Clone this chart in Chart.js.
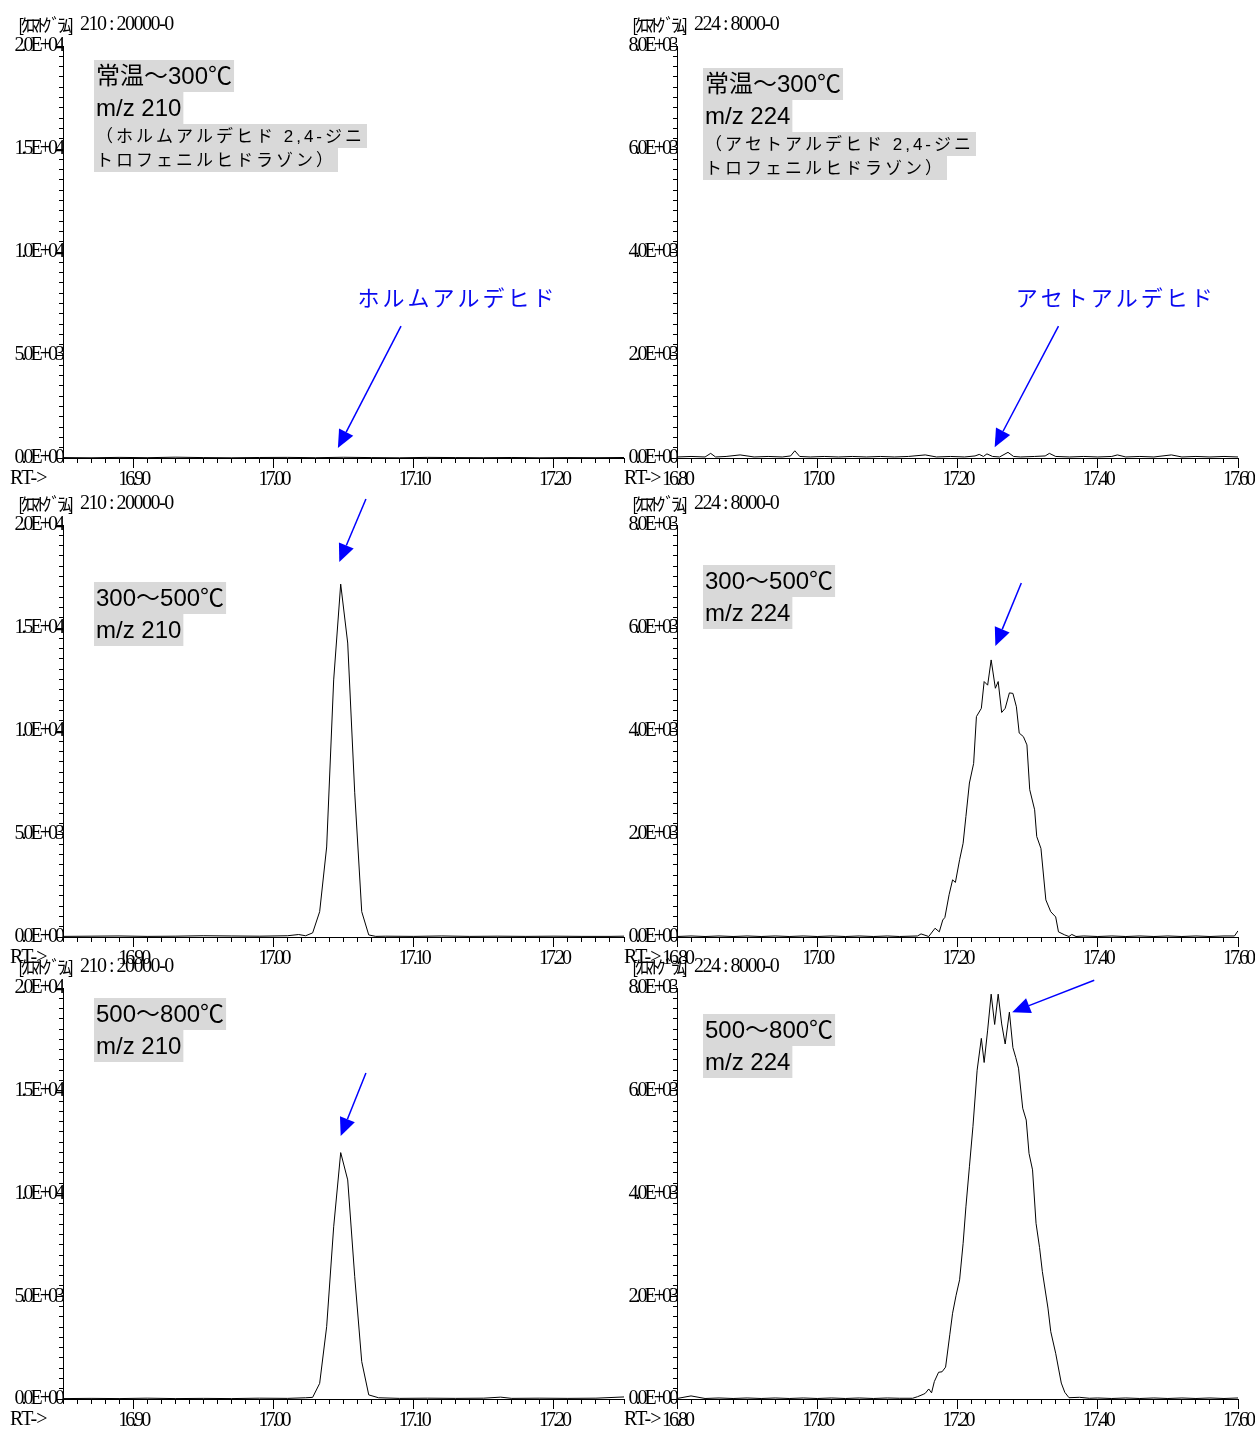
<!DOCTYPE html>
<html>
<head>
<meta charset="utf-8">
<script src="https://cdn.jsdelivr.net/npm/chart.js@4.4.1/dist/chart.umd.min.js"></script>
<style>
  body { margin: 0; background: #fff; width: 1255px; height: 1430px; position: relative; overflow: hidden; }
  canvas { position: absolute; }
</style>
</head>
<body>
<canvas id="c1" width="627" height="492" style="left:0;top:0"></canvas>
<canvas id="c2" width="641" height="492" style="left:614px;top:0"></canvas>
<canvas id="c3" width="627" height="492" style="left:0;top:479px"></canvas>
<canvas id="c4" width="641" height="492" style="left:614px;top:479px"></canvas>
<canvas id="c5" width="627" height="491" style="left:0;top:942px"></canvas>
<canvas id="c6" width="641" height="491" style="left:614px;top:942px"></canvas>
<script>
// 保持時間 [min], 強度 の組 (m/z 210 : ホルムアルデヒド DNPH)
const mz210_rt_300 = [
  [16.85, 20], [16.87, 10], [16.89, 30], [16.91, 15], [16.93, 40], [16.95, 20], [16.97, 10],
  [16.99, 25], [17.01, 30], [17.03, 15], [17.05, 35], [17.07, 20], [17.09, 10], [17.11, 30],
  [17.13, 20], [17.15, 15], [17.17, 25], [17.19, 10], [17.21, 20], [17.23, 15], [17.25, 25]
];
const mz210_300_500 = [
  [16.85, 30], [16.87, 40], [16.89, 50], [16.91, 30], [16.93, 40], [16.95, 60], [16.97, 50],
  [16.99, 40], [17.01, 60], [17.018, 120], [17.023, 60], [17.028, 200], [17.033, 1230],
  [17.038, 4370], [17.043, 12480], [17.048, 17130], [17.053, 14270], [17.058, 7000],
  [17.063, 1230], [17.068, 100], [17.073, 30], [17.08, 40], [17.10, 30], [17.12, 50],
  [17.14, 30], [17.16, 40], [17.18, 30], [17.20, 40], [17.22, 30], [17.24, 30], [17.25, 40]
];
const mz210_500_800 = [
  [16.85, 20], [16.87, 30], [16.89, 20], [16.91, 40], [16.93, 20], [16.95, 30], [16.97, 20],
  [16.99, 40], [17.01, 30], [17.023, 60], [17.028, 80], [17.033, 760], [17.038, 3520],
  [17.043, 8380], [17.048, 11990], [17.053, 10660], [17.058, 5950], [17.063, 1820],
  [17.068, 200], [17.075, 60], [17.09, 30], [17.11, 40], [17.13, 30], [17.15, 40],
  [17.162, 90], [17.17, 30], [17.19, 40], [17.21, 30], [17.23, 40], [17.25, 100]
];
// m/z 224 : アセトアルデヒド DNPH
const mz224_rt_300 = [
  [16.80, 20], [16.82, 30], [16.84, 20], [16.848, 90], [16.855, 20], [16.87, 30], [16.89, 60],
  [16.91, 20], [16.93, 30], [16.95, 20], [16.962, 40], [16.968, 140], [16.975, 30], [16.99, 20],
  [17.01, 30], [17.03, 20], [17.05, 30], [17.07, 20], [17.09, 30], [17.11, 20], [17.13, 30],
  [17.154, 60], [17.17, 20], [17.19, 30], [17.21, 20], [17.225, 40], [17.231, 70], [17.237, 30],
  [17.242, 80], [17.25, 30], [17.26, 20], [17.272, 110], [17.28, 30], [17.29, 20], [17.31, 30],
  [17.325, 40], [17.331, 90], [17.34, 30], [17.36, 20], [17.38, 30], [17.40, 20], [17.42, 30],
  [17.428, 60], [17.44, 20], [17.46, 30], [17.48, 20], [17.505, 60], [17.52, 20], [17.54, 30],
  [17.56, 20], [17.58, 30], [17.60, 20]
];
const mz224_300_500 = [
  [16.80, 10], [16.82, 20], [16.84, 10], [16.86, 20], [16.88, 10], [16.90, 20], [16.92, 10],
  [16.94, 20], [16.96, 10], [16.98, 20], [17.00, 10], [17.02, 20], [17.04, 10], [17.06, 20],
  [17.08, 10], [17.10, 20], [17.117, 10], [17.143, 20], [17.148, 60], [17.159, 10],
  [17.168, 170], [17.174, 100], [17.179, 330], [17.182, 380], [17.188, 820], [17.193, 1110],
  [17.197, 1060], [17.203, 1500], [17.208, 1820], [17.212, 2340], [17.217, 2990],
  [17.223, 3370], [17.227, 4280], [17.234, 4440], [17.238, 4960], [17.243, 4890],
  [17.248, 5380], [17.254, 4830], [17.258, 4960], [17.263, 4360], [17.268, 4440],
  [17.274, 4740], [17.279, 4730], [17.284, 4470], [17.288, 3960], [17.294, 3890],
  [17.299, 3730], [17.303, 2860], [17.310, 2470], [17.313, 1950], [17.319, 1720],
  [17.326, 720], [17.333, 490], [17.340, 390], [17.344, 100], [17.353, 40], [17.359, 10],
  [17.363, 50], [17.369, 10], [17.38, 20], [17.40, 10], [17.42, 20], [17.44, 10], [17.46, 20],
  [17.48, 10], [17.50, 20], [17.52, 10], [17.54, 20], [17.56, 10], [17.58, 20], [17.595, 20],
  [17.60, 120]
];
const mz224_500_800 = [
  [16.80, 10], [16.82, 60], [16.84, 10], [16.86, 20], [16.88, 10], [16.90, 20], [16.92, 10],
  [16.94, 20], [16.96, 10], [16.98, 20], [17.00, 10], [17.02, 20], [17.04, 10], [17.06, 20],
  [17.08, 10], [17.10, 20], [17.117, 14], [17.136, 14], [17.143, 45], [17.151, 90],
  [17.154, 110], [17.159, 195], [17.163, 120], [17.167, 340], [17.173, 520], [17.178, 530],
  [17.183, 620], [17.189, 1250], [17.193, 1670], [17.198, 2020], [17.203, 2320],
  [17.208, 3030], [17.212, 3740], [17.217, 4520], [17.222, 5300], [17.228, 6400],
  [17.234, 7020], [17.238, 6550], [17.243, 7180], [17.248, 7880], [17.253, 7290],
  [17.258, 7880], [17.263, 7300], [17.268, 6910], [17.274, 7530], [17.279, 6840],
  [17.283, 6650], [17.287, 6440], [17.293, 5660], [17.298, 5430], [17.302, 4780],
  [17.307, 4460], [17.312, 3420], [17.317, 2950], [17.321, 2480], [17.329, 1770],
  [17.333, 1310], [17.340, 890], [17.348, 310], [17.353, 130], [17.359, 25], [17.374, 33],
  [17.388, 14], [17.40, 20], [17.42, 10], [17.44, 20], [17.46, 10], [17.48, 20], [17.50, 10],
  [17.52, 20], [17.54, 10], [17.56, 20], [17.58, 10], [17.60, 20]
];

// 軸範囲
const xRange210 = [16.85, 17.25];
const xRange224 = [16.80, 17.60];
const yMax210 = 20000;
const yMax224 = 8000;

const SERIF = '"Liberation Serif", "Noto Sans CJK JP", serif';
const SANS = '"Liberation Sans", "Noto Sans CJK JP", sans-serif';
const JP = '"Noto Sans CJK JP", sans-serif';

function sci(v) {
  if (v === 0) return '0.0E+00';
  const e = Math.floor(Math.log10(v) + 1e-9);
  const m = v / Math.pow(10, e);
  return m.toFixed(1) + 'E+' + String(e).padStart(2, '0');
}
function isMul(v, step) {
  return Math.abs(v / step - Math.round(v / step)) < 1e-6;
}

function drawArrow(ctx, x1, y1, x2, y2) {
  const a = Math.atan2(y2 - y1, x2 - x1);
  const hl = 18, hw = 8;
  const bx = x2 - hl * Math.cos(a), by = y2 - hl * Math.sin(a);
  ctx.strokeStyle = '#0000ff';
  ctx.fillStyle = '#0000ff';
  ctx.lineWidth = 1.5;
  ctx.beginPath(); ctx.moveTo(x1, y1); ctx.lineTo(bx, by); ctx.stroke();
  ctx.beginPath();
  ctx.moveTo(x2, y2);
  ctx.lineTo(bx + hw * Math.sin(a), by - hw * Math.cos(a));
  ctx.lineTo(bx - hw * Math.sin(a), by + hw * Math.cos(a));
  ctx.closePath(); ctx.fill();
}

// 注記（ヘッダ・ラベル箱・矢印）
const overlay = {
  id: 'overlay',
  beforeDraw(chart) {
    chart.ctx.letterSpacing = '-3px';
  },
  afterDraw(chart) {
    const p = chart.options.plugins.overlay;
    const ctx = chart.ctx;
    const ca = chart.chartArea;
    const xs = chart.scales.x, ys = chart.scales.y;
    ctx.save();
    ctx.fillStyle = '#000';
    ctx.textBaseline = 'middle';
    ctx.textAlign = 'left';
    // ヘッダ
    ctx.letterSpacing = '-3.5px';
    ctx.font = '18px ' + JP;
    ctx.fillText('[ｸﾛﾏﾄｸﾞﾗﾑ]', ca.left - 45, ca.top - 21);
    ctx.letterSpacing = '-1.5px';
    ctx.font = '20px ' + SERIF;
    ctx.fillText(p.header, ca.left + 17, ca.top - 21);
    ctx.letterSpacing = '-1px';
    ctx.fillText('RT->', ca.left - 53, ca.bottom + 21);
    // ラベル箱
    let y = ca.top + p.box.dy;
    p.box.lines.forEach(l => {
      ctx.font = l.size + 'px ' + SANS;
      ctx.letterSpacing = (l.sp || 0) + 'px';
      const w = ctx.measureText(l.t).width;
      const h = l.size > 20 ? 32 : 24;
      ctx.fillStyle = '#d9d9d9';
      ctx.fillRect(ca.left + p.box.dx, y, w + 4, h);
      ctx.fillStyle = '#000';
      ctx.fillText(l.t, ca.left + p.box.dx + 2, y + h / 2 + 1);
      y += h;
    });
    // 化合物名
    if (p.name) {
      ctx.font = '22px ' + JP;
      ctx.letterSpacing = '3px';
      ctx.fillStyle = '#0a0af0';
      ctx.fillText(p.name.t, xs.getPixelForValue(p.name.x), ys.getPixelForValue(p.name.y));
    }
    const ar = p.arrow;
    ctx.letterSpacing = '0px';
    drawArrow(ctx, xs.getPixelForValue(ar[0]), ys.getPixelForValue(ar[1]),
      xs.getPixelForValue(ar[2]), ys.getPixelForValue(ar[3]));
    ctx.restore();
  }
};

function makeChart(id, data, xr, xStep, xMajor, yMax, padRight, header, box, arrow, name) {
  const yStep = yMax / 40, yMajor = yMax / 4;
  new Chart(document.getElementById(id), {
    type: 'line',
    data: {
      datasets: [{
        data: data.map(d => ({ x: d[0], y: d[1] })),
        borderColor: '#000',
        borderWidth: 1,
        pointRadius: 0,
        tension: 0,
        fill: false
      }]
    },
    options: {
      responsive: false,
      animation: false,
      layout: { padding: { top: 46, right: padRight, bottom: 0, left: 0 } },
      plugins: {
        legend: { display: false },
        tooltip: { enabled: false },
        overlay: { header, box, arrow, name }
      },
      scales: {
        x: {
          type: 'linear',
          min: xr[0],
          max: xr[1],
          border: { color: '#000', width: 1 },
          grid: {
            drawOnChartArea: false,
            tickLength: 10,
            tickColor: '#000',
            tickBorderDash: c => (c.tick && isMul(c.tick.value, xMajor)) ? [] : [4, 40]
          },
          ticks: {
            stepSize: xStep,
            autoSkip: false,
            maxRotation: 0,
            minRotation: 0,
            padding: 0,
            color: '#000',
            font: { family: SERIF, size: 20 },
            callback: v => isMul(v, xMajor) ? v.toFixed(2) : ''
          },
          afterFit: s => { s.height = 34; s.paddingLeft = 0; s.paddingRight = 0; }
        },
        y: {
          min: 0,
          max: yMax,
          border: { color: '#000', width: 1 },
          grid: {
            drawOnChartArea: false,
            tickLength: 7,
            tickColor: '#000',
            tickBorderDash: c => (c.tick && isMul(c.tick.value, yMajor)) ? [] : [0, 3, 4, 40]
          },
          ticks: {
            stepSize: yStep,
            autoSkip: false,
            padding: -6,
            color: '#000',
            font: { family: SERIF, size: 20 },
            callback: v => isMul(v, yMajor) ? sci(v) : ''
          },
          afterFit: s => { s.width = 63; s.paddingTop = 0; s.paddingBottom = 0; }
        }
      }
    },
    plugins: [overlay]
  });
}

const sub210 = [
  { t: '（ホルムアルデヒド 2,4-ジニ', size: 17, sp: 3 },
  { t: 'トロフェニルヒドラゾン）', size: 17, sp: 3 }
];
const sub224 = [
  { t: '（アセトアルデヒド 2,4-ジニ', size: 17, sp: 3 },
  { t: 'トロフェニルヒドラゾン）', size: 17, sp: 3 }
];

makeChart('c1', mz210_rt_300, xRange210, 0.01, 0.1, yMax210, 3, '210 : 20000-0',
  { dx: 31, dy: 14, lines: [{ t: '常温～300℃', size: 24 }, { t: 'm/z 210', size: 24 }].concat(sub210) },
  [17.091, 6400, 17.046, 480], { t: 'ホルムアルデヒド', x: 17.06, y: 7770 });
makeChart('c2', mz224_rt_300, xRange224, 0.02, 0.2, yMax224, 17, '224 : 8000-0',
  { dx: 26, dy: 22, lines: [{ t: '常温～300℃', size: 24 }, { t: 'm/z 224', size: 24 }].concat(sub224) },
  [17.344, 2560, 17.253, 210], { t: 'アセトアルデヒド', x: 17.283, y: 3110 });
makeChart('c3', mz210_300_500, xRange210, 0.01, 0.1, yMax210, 3, '210 : 20000-0',
  { dx: 31, dy: 57, lines: [{ t: '300～500℃', size: 24 }, { t: 'm/z 210', size: 24 }] },
  [17.066, 21260, 17.047, 18200], null);
makeChart('c4', mz224_300_500, xRange224, 0.02, 0.2, yMax224, 17, '224 : 8000-0',
  { dx: 26, dy: 40, lines: [{ t: '300～500℃', size: 24 }, { t: 'm/z 224', size: 24 }] },
  [17.291, 6875, 17.254, 5650], null);
makeChart('c5', mz210_500_800, xRange210, 0.01, 0.1, yMax210, 3, '210 : 20000-0',
  { dx: 31, dy: 10, lines: [{ t: '500～800℃', size: 24 }, { t: 'm/z 210', size: 24 }] },
  [17.066, 15860, 17.048, 12800], null);
makeChart('c6', mz224_500_800, xRange224, 0.02, 0.2, yMax224, 17, '224 : 8000-0',
  { dx: 26, dy: 26, lines: [{ t: '500～800℃', size: 24 }, { t: 'm/z 224', size: 24 }] },
  [17.395, 8150, 17.278, 7530], null);
</script>
</body>
</html>
